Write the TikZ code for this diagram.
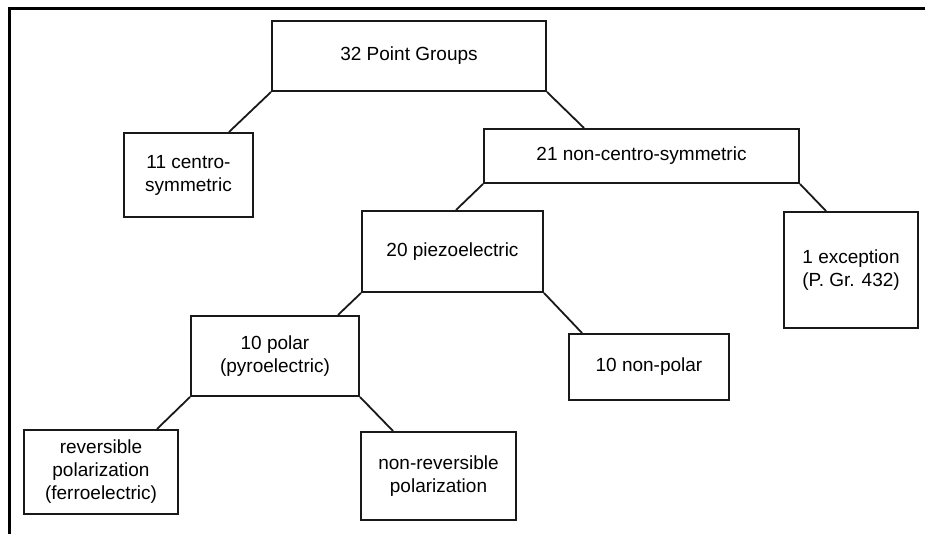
\documentclass[tikz,border=0pt]{standalone}
\usepackage{fontspec}
\setmainfont{Liberation Sans}
\begin{document}
\begin{tikzpicture}[x=1pt,y=-1pt,
  box/.style={draw=black!90,line width=2pt,align=center,inner sep=0pt,
    font=\fontsize{19}{23}\selectfont},
  link/.style={draw=black!90,line width=1.8pt},
  frame/.style={draw=black,line width=3pt}]
\useasboundingbox (0,0) rectangle (925,534);
\draw[frame] (925,8.5) -- (9.5,8.5) -- (9.5,534);
\node[box,minimum width=274pt,minimum height=70pt] (top) at (409,56) {32 Point Groups};
\node[box,minimum width=129pt,minimum height=84pt] (cs) at (188.5,175) {11 centro-\\symmetric};
\node[box,minimum width=315pt,minimum height=54pt] (ncs) at (641.5,156) {21 non-centro-symmetric};
\node[box,minimum width=181pt,minimum height=81pt] (piezo) at (452.5,251.5) {20 piezoelectric};
\node[box,minimum width=134pt,minimum height=116pt] (exc) at (851,270) {1 exception\\(P. Gr. 432)};
\node[box,minimum width=160pt,minimum height=66pt] (nonpolar) at (649,367) {10 non-polar};
\node[box,minimum width=168pt,minimum height=80pt] (polar) at (275,356) {10 polar\\(pyroelectric)};
\node[box,minimum width=154pt,minimum height=84pt] (rev) at (101,472) {reversible\\polarization\\(ferroelectric)};
\node[box,minimum width=155pt,minimum height=88pt] (nonrev) at (438.5,476) {non-reversible\\polarization};
\draw[link] (top.south west) -- ([xshift=106pt]cs.north west);
\draw[link] (top.south east) -- ([xshift=101pt]ncs.north west);
\draw[link] (ncs.south west) -- ([xshift=95pt]piezo.north west);
\draw[link] (ncs.south east) -- ([xshift=43pt]exc.north west);
\draw[link] (piezo.south west) -- ([xshift=148pt]polar.north west);
\draw[link] (piezo.south east) -- ([xshift=14pt]nonpolar.north west);
\draw[link] (polar.south west) -- ([xshift=134pt]rev.north west);
\draw[link] (polar.south east) -- ([xshift=33pt]nonrev.north west);
\end{tikzpicture}
\end{document}
